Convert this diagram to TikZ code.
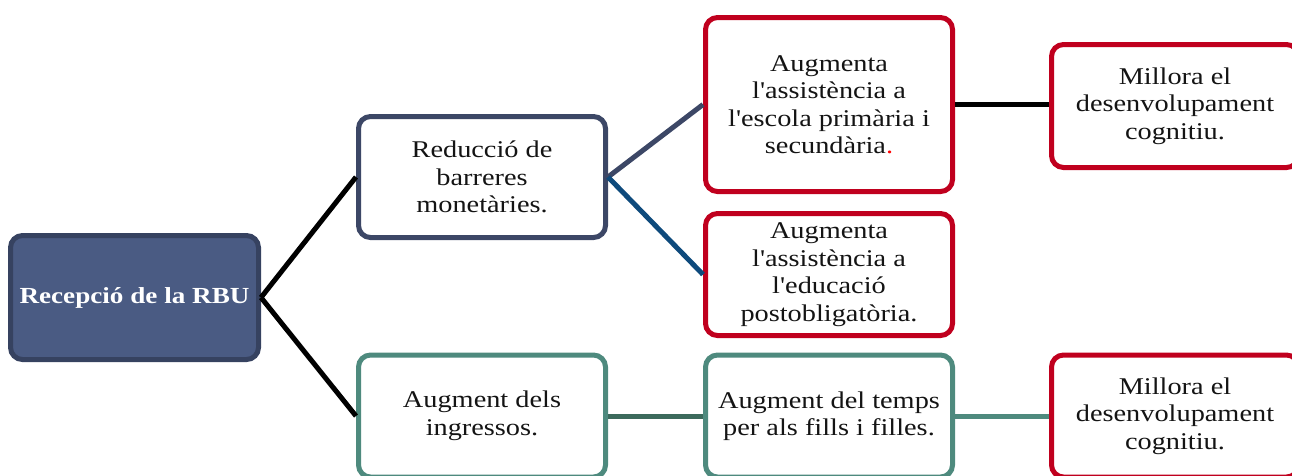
\documentclass[tikz,border=0pt]{standalone}
\usepackage{fontspec}
\setmainfont{Liberation Serif}[FakeStretch=1.18,Ligatures=TeXOff]
\definecolor{rootfill}{RGB}{74,91,131}
\definecolor{rootdraw}{RGB}{54,66,96}
\definecolor{slate}{RGB}{60,71,102}
\definecolor{darkblue}{RGB}{14,74,124}
\definecolor{rbred}{RGB}{192,0,30}
\definecolor{teal}{RGB}{78,138,126}
\definecolor{darkteal}{RGB}{60,106,92}
\definecolor{txt}{RGB}{20,20,20}
\tikzset{
  box/.style={rounded corners=12pt, line width=5pt, fill=white, align=center,
    text=txt, font=\fontsize{24}{27.5}\selectfont, inner sep=0pt,
    minimum width=247pt},
  rootbox/.style={box, fill=rootfill, draw=rootdraw, text=white,
    font=\fontsize{23}{27.5}\selectfont\bfseries, minimum width=248pt, minimum height=124pt},
  slatebox/.style={box, draw=slate},
  redbox/.style={box, draw=rbred},
  tealbox/.style={box, draw=teal},
  conn/.style={line width=5pt}
}
\begin{document}
\begin{tikzpicture}[x=1pt,y=-1pt]
\useasboundingbox (0,0) rectangle (1292,475);
\clip (0,0) rectangle (1292,475);
\node[rootbox] (root) at (134.5,297.5) {Recepció de la RBU};
\node[slatebox, minimum height=121pt] (red) at (482,177) {Reducció de\\barreres\\monetàries.};
\node[redbox, minimum height=174pt] (aug1) at (829,104.5) {Augmenta\\l'assistència a\\l'escola primària i\\secundària\textcolor{red}{.}};
\node[redbox, minimum height=122pt] (aug2) at (829,274.5) {Augmenta\\l'assistència a\\l'educació\\postobligatòria.};
\node[redbox, minimum height=123pt] (mil1) at (1175,106) {Millora el\\desenvolupament\\cognitiu.};
\node[tealbox, minimum height=122pt] (ing) at (482,416) {Augment dels\\ingressos.};
\node[tealbox, minimum height=122pt] (temps) at (829,416) {Augment del temps\\per als fills i filles.};
\node[redbox, minimum height=122pt] (mil2) at (1175,416) {Millora el\\desenvolupament\\cognitiu.};
\draw[conn, black] (root.east) -- (red.west);
\draw[conn, black] (root.east) -- (ing.west);
\draw[conn, slate] (red.east) -- (aug1.west);
\draw[conn, darkblue] (red.east) -- (aug2.west);
\draw[conn, black] (aug1.east) -- (aug1.east -| mil1.west);
\draw[conn, darkteal] (ing.east) -- (temps.west);
\draw[conn, teal] (temps.east) -- (mil2.west);
\end{tikzpicture}
\end{document}
